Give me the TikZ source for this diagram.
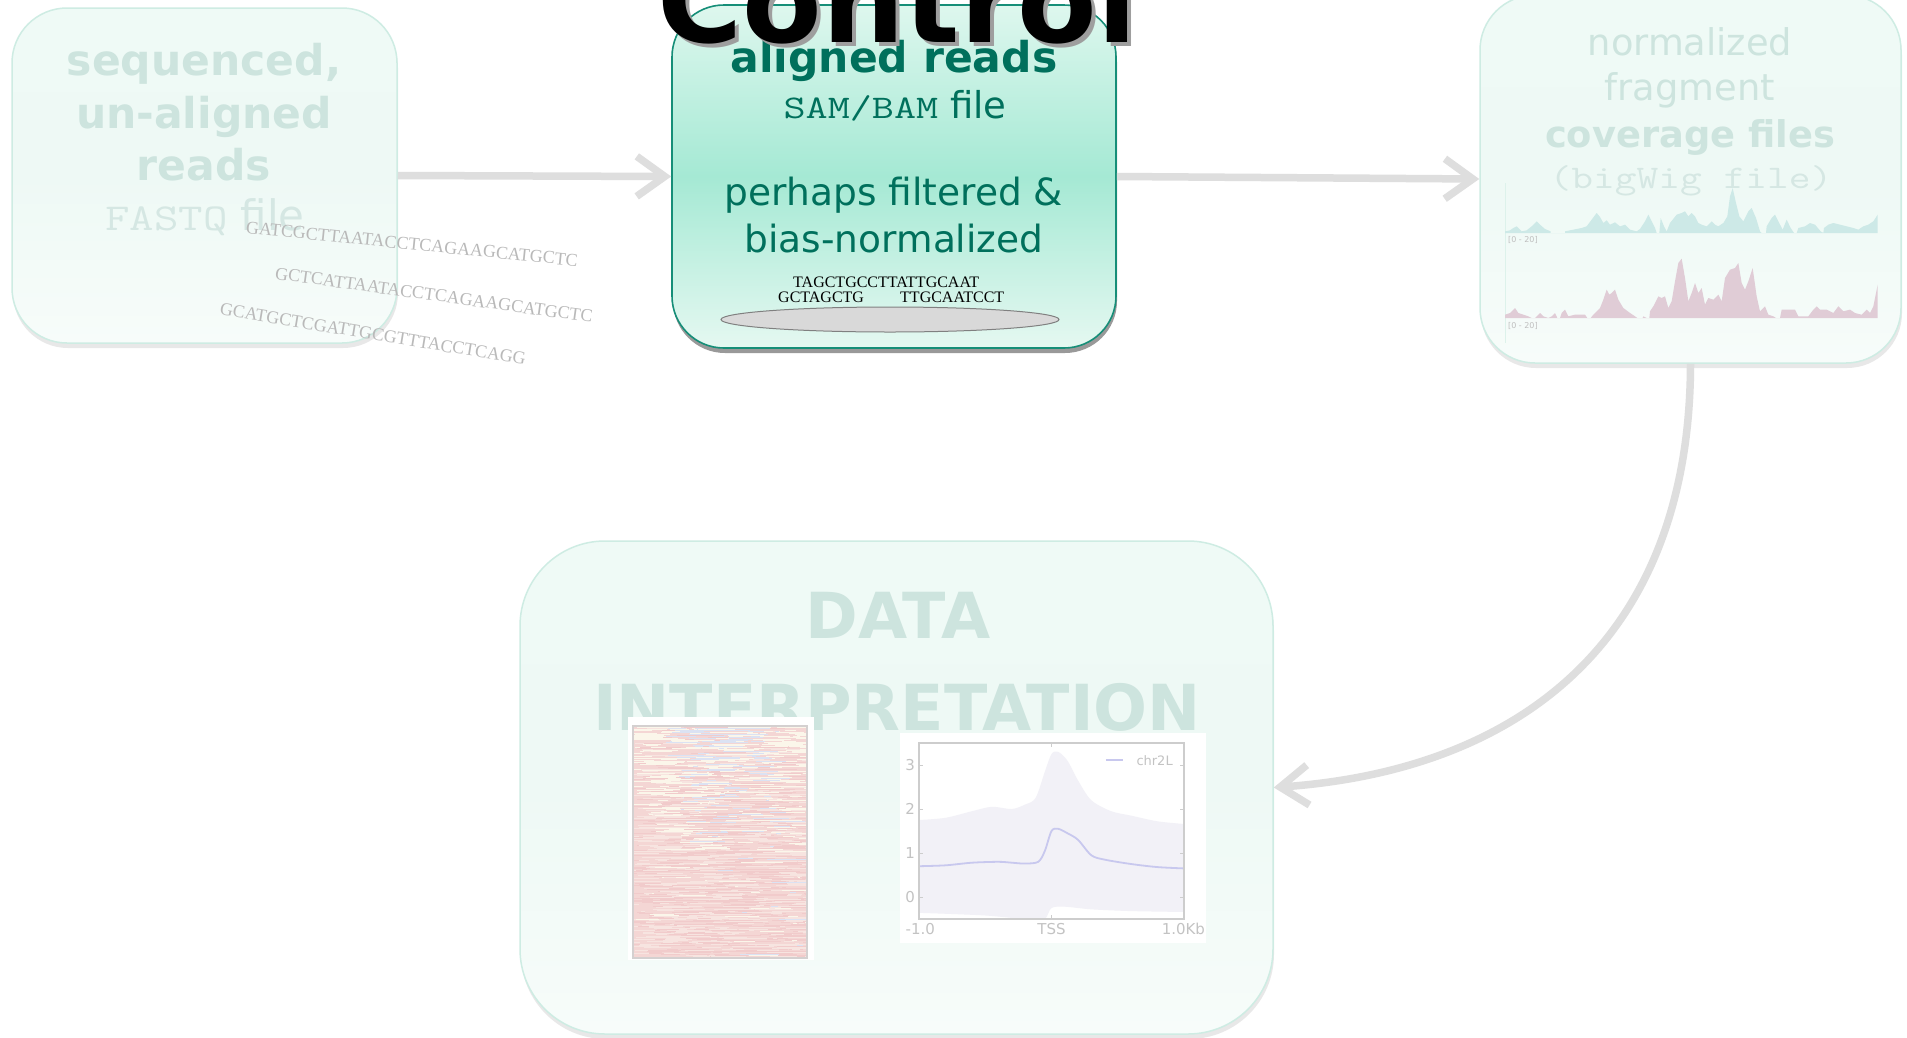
\documentclass[tikz,border=0pt]{standalone}
\usepackage{fontspec}
\setmainfont{DejaVu Sans}
\newfontfamily\seqfont{Liberation Serif}
\usetikzlibrary{shapes.geometric,arrows.meta,shadows}
\newcommand{\setfs}[1]{\fontsize{#1}{#1}\selectfont}
\definecolor{fA}{RGB}{239,250,246}
\definecolor{fM}{RGB}{238,249,245}
\definecolor{fB}{RGB}{247,252,250}
\definecolor{fline}{RGB}{206,236,227}
\definecolor{ftext}{RGB}{205,228,222}
\definecolor{ftext2}{RGB}{213,231,227}
\definecolor{gA}{RGB}{222,247,238}
\definecolor{gM}{RGB}{165,233,212}
\definecolor{gB}{RGB}{229,248,241}
\definecolor{gline}{RGB}{22,142,120}
\definecolor{gtext}{RGB}{0,112,92}
\definecolor{arrowgray}{RGB}{222,222,222}
\definecolor{seqgray}{RGB}{185,185,185}
\definecolor{tealtrack}{RGB}{205,233,231}
\definecolor{pinktrack}{RGB}{224,204,214}
\definecolor{hmbase}{RGB}{244,214,212}
\definecolor{hm0}{RGB}{241,203,203}
\definecolor{hm1}{RGB}{219,226,243}
\definecolor{hm2}{RGB}{251,246,234}
\definecolor{hm3}{RGB}{247,228,224}
\definecolor{hmframe}{RGB}{212,208,208}
\definecolor{bandc}{RGB}{242,241,247}
\definecolor{meanc}{RGB}{200,200,238}
\definecolor{framec}{RGB}{205,205,205}
\definecolor{tickc}{RGB}{195,195,195}
\begin{document}
\begin{tikzpicture}[x=1pt,y=-1pt,
  faintbox/.style={rounded corners=55pt, draw=fline, line width=1.5pt,
    top color=fA, bottom color=fB, middle color=fM, inner sep=0pt,
    drop shadow={shadow xshift=1pt, shadow yshift=-5pt, fill=black!9, opacity=1}},
  greenbox/.style={rounded corners=52pt, draw=gline, line width=1.6pt,
    top color=gA, bottom color=gB, middle color=gM, inner sep=0pt,
    drop shadow={shadow xshift=1pt, shadow yshift=-5pt, fill=black!40, opacity=1}},
  flow/.style={draw=arrowgray, line width=7.5pt, -{Straight Barb[length=28pt,width=40pt,sharp]}},
  ftxt/.style={anchor=base, text=ftext, inner sep=0pt},
  gtxt/.style={anchor=base, text=gtext, inner sep=0pt},
  seq/.style={text=seqgray, inner sep=0pt, font=\seqfont\setfs{18}},
  blackseq/.style={anchor=base west, text=black, inner sep=0pt, font=\seqfont\setfs{16}},
  ticklab/.style={text=tickc, inner sep=0pt, font=\setfs{15}},
  tracklab/.style={anchor=west, text=black!25, inner sep=0pt, font=\setfs{8}}
]
\fill[white] (0,0) rectangle (1907,1037);
\useasboundingbox (0,0) rectangle (1907,1037);

% ---------- boxes ----------
\node[faintbox, minimum width=385pt, minimum height=335pt] (b1) at (204.5,175.5) {};
\node[greenbox, minimum width=444pt, minimum height=343pt] (b2) at (894,176.5) {};
\node[faintbox, minimum width=421pt, minimum height=368pt] (b3) at (1690.5,179) {};
\node[faintbox, rounded corners=85pt, minimum width=753pt, minimum height=493pt] (b4) at (896.5,787.5) {};

% ---------- arrows ----------
\draw[flow] (b1.east) -- (b2.west);
\draw[flow] (b2.east) -- (b3.west);
\draw[flow] (b3.south) .. controls (1690,640) and (1520,770) .. (b4.east);

% ---------- box 1 ----------
\node[ftxt, font=\setfs{42.5}\bfseries] (t1a) at (204,75) {sequenced,};
\node[ftxt, font=\setfs{42.5}\bfseries] (t1b) at (204,128) {un-aligned};
\node[ftxt, font=\setfs{42.5}\bfseries] (t1c) at (204,180) {reads};
\node[ftxt, text=ftext2, font=\setfs{42}] (t1d) at (205,230) {\scalebox{1.25}[1]{\ttfamily\setfs{38}FASTQ} file};
\node[seq, rotate=-5.7] (s1) at (412,244) {GATCGCTTAATACCTCAGAAGCATGCTC};
\node[seq, rotate=-7.8] (s2) at (434,295) {GCTCATTAATACCTCAGAAGCATGCTC};
\node[seq, rotate=-9.4] (s3) at (373,334) {GCATGCTCGATTGCGTTTACCTCAGG};

% ---------- box 2 ----------
\node[gtxt, font=\setfs{42.5}\bfseries] (t2a) at (894,72) {aligned reads};
\node[gtxt, font=\setfs{37}] (t2b) at (895,118) {\scalebox{1.3}[1]{\ttfamily\setfs{33}SAM/BAM} file};
\node[gtxt, font=\setfs{37.5}] (t2c) at (894,205) {perhaps filtered \&};
\node[gtxt, font=\setfs{37.5}] (t2d) at (894,252) {bias-normalized};
\node[blackseq] (r1) at (793,287) {TAGCTGCCTTATTGCAAT};
\node[blackseq] (r2) at (778,302) {GCTAGCTG};
\node[blackseq] (r3) at (900,302) {TTGCAATCCT};
\node[ellipse, draw=black!50, line width=1pt, fill=black!15, minimum width=338pt, minimum height=25pt, inner sep=0pt] (chrom) at (890,319.5) {};

% ---------- Control title ----------
\node[anchor=base, inner sep=0pt, text=black!38, font=\setfs{116}\bfseries] (ctlsh) at (901,46) {Control};
\node[anchor=base, inner sep=0pt, text=black, font=\setfs{116}\bfseries] (ctl) at (897,42) {Control};

% ---------- box 3 ----------
\node[ftxt, font=\setfs{36.8}] (t3a) at (1690,55) {normalized};
\node[ftxt, font=\setfs{36.8}] (t3b) at (1690,100) {fragment};
\node[ftxt, font=\setfs{36.8}\bfseries] (t3c) at (1690,147) {coverage files};
\node[ftxt, text=ftext2, font=\setfs{33}] (t3d) at (1691,188) {\scalebox{1.28}[1]{\ttfamily\setfs{33}(bigWig file)}};
\draw[fline!70, line width=1pt] (1505,183) -- (1505,343);
\begin{scope}[shift={(1400,233)}, xscale=1/3, yscale=1/3]
\fill[tealtrack] (315,0)--(315,-5)--(330,-8)--(340,-15)--(350,-20)--(358,-12)--(365,-5)--(380,-8)--(395,-20)--(410,-35)--(420,-25)--(435,-12)--(452,-5)--(452,0)--(495,0)--(495,-5)--(520,-10)--(545,-15)--(560,-20)--(575,-40)--(590,-60)--(600,-48)--(610,-30)--(620,-38)--(630,-25)--(645,-32)--(660,-20)--(675,-25)--(690,-10)--(710,-5)--(720,-12)--(735,-35)--(745,-55)--(755,-35)--(765,-15)--(770,0)--(778,0)--(782,-45)--(792,-20)--(800,-5)--(810,-30)--(830,-55)--(845,-60)--(855,-65)--(865,-50)--(875,-60)--(885,-50)--(895,-30)--(905,-25)--(920,-20)--(935,-35)--(945,-25)--(955,-20)--(970,-30)--(982,-50)--(990,-110)--(998,-135)--(1008,-90)--(1018,-50)--(1030,-35)--(1045,-65)--(1055,-75)--(1068,-45)--(1080,-5)--(1085,0)--(1098,0)--(1100,-20)--(1115,-45)--(1125,-55)--(1135,-35)--(1148,-10)--(1160,-40)--(1172,-15)--(1182,0)--(1190,0)--(1195,-15)--(1215,-20)--(1230,-30)--(1245,-25)--(1262,-5)--(1270,0)--(1272,-15)--(1285,-25)--(1300,-30)--(1320,-25)--(1340,-20)--(1360,-15)--(1375,-10)--(1390,-20)--(1405,-25)--(1420,-35)--(1433,-55)--(1433,0)--cycle;
\end{scope}
\begin{scope}[shift={(1400,318)}, xscale=1/3, yscale=1/3]
\fill[pinktrack] (315,0)--(315,-10)--(330,-15)--(345,-30)--(355,-15)--(370,-10)--(385,-5)--(395,0)--(405,0)--(410,-5)--(420,-15)--(430,-5)--(445,0)--(455,-5)--(465,-15)--(472,0)--(480,0)--(485,-15)--(495,-25)--(505,-5)--(525,-10)--(555,-10)--(562,0)--(572,0)--(580,-10)--(600,-30)--(610,-55)--(620,-85)--(628,-70)--(635,-75)--(645,-85)--(655,-55)--(670,-30)--(690,-15)--(705,-5)--(712,0)--(728,0)--(730,-5)--(740,0)--(748,0)--(750,-20)--(760,-35)--(775,-65)--(785,-60)--(795,-65)--(805,-30)--(815,-50)--(825,-110)--(835,-165)--(845,-178)--(855,-120)--(865,-50)--(875,-75)--(885,-105)--(895,-75)--(905,-90)--(915,-40)--(925,-60)--(940,-55)--(955,-70)--(965,-50)--(975,-120)--(990,-145)--(1005,-150)--(1015,-165)--(1025,-105)--(1035,-85)--(1045,-110)--(1058,-150)--(1070,-65)--(1080,-20)--(1095,-35)--(1105,-10)--(1120,-5)--(1128,0)--(1140,0)--(1145,-25)--(1160,-25)--(1185,-25)--(1195,-5)--(1225,-5)--(1240,-25)--(1250,-35)--(1260,-25)--(1280,-25)--(1300,-15)--(1315,-35)--(1330,-20)--(1350,-25)--(1365,-15)--(1385,-10)--(1400,-25)--(1410,-15)--(1420,-35)--(1433,-100)--(1433,0)--cycle;
\end{scope}
\node[tracklab] (tl1) at (1508,240) {[0 - 20]};
\node[tracklab] (tl2) at (1508,326) {[0 - 20]};

% ---------- box 4 ----------
\node[ftxt, font=\setfs{63.5}\bfseries] (t4a) at (898,638) {DATA};
\node[ftxt, font=\setfs{63.5}\bfseries] (t4b) at (897,730) {INTERPRETATION};

% heatmap
\node[fill=white, minimum width=186pt, minimum height=243pt, inner sep=0pt] (hmbg) at (721,838.5) {};
\begin{scope}
\clip (633,726) rectangle (807,958);
\fill[hmbase] (633,726) rectangle (807,958);
\pgfmathsetseed{42}
\foreach \i in {0,...,231}{
  \pgfmathsetmacro{\yy}{726+\i}
  \pgfmathsetmacro{\pp}{max(0.05,0.95-\i/150)}
  \foreach \j in {1,...,7}{
    \pgfmathtruncatemacro{\kk}{ifthenelse(rnd<\pp, ifthenelse(rnd<0.3,1,2), ifthenelse(rnd<0.5,0,3))}
    \pgfmathsetmacro{\xa}{ifthenelse(\kk==1, 660+\i*0.25+rnd*90, 625+rnd*180)}
    \pgfmathsetmacro{\ln}{4+rnd*40}
    \fill[hm\kk] (\xa,\yy) rectangle ++(\ln,1);
  }
}
\end{scope}
\draw[hmframe, line width=1.5pt] (633,726) rectangle (807,958);

% profile plot
\node[fill=white, minimum width=306pt, minimum height=210pt, inner sep=0pt] (plbg) at (1053,838) {};
\begin{scope}[shift={(1051.5,897)}, x=132.5pt, y=44pt]
  \begin{scope}
    \clip (-1,-0.5) rectangle (1,3.5);
    \fill[bandc] plot[smooth] coordinates {(-1,1.75) (-0.8,1.8) (-0.6,1.95) (-0.45,2.05) (-0.3,2.0) (-0.2,2.1) (-0.12,2.25) (-0.05,2.85) (0.0,3.25) (0.05,3.3) (0.12,3.1) (0.2,2.65) (0.3,2.2) (0.45,1.95) (0.6,1.85) (0.8,1.72) (1.0,1.66)}
      -- plot[smooth] coordinates {(1.0,-0.34) (0.6,-0.32) (0.3,-0.28) (0.1,-0.22) (0.0,-0.25) (-0.05,-0.5) (-0.15,-0.52) (-0.5,-0.42) (-1,-0.36)} -- cycle;
    \draw[meanc, line width=1.8pt] plot[smooth] coordinates {(-1,0.7) (-0.8,0.72) (-0.6,0.78) (-0.4,0.8) (-0.3,0.78) (-0.2,0.76) (-0.1,0.8) (-0.05,1.05) (0.0,1.5) (0.05,1.55) (0.12,1.45) (0.2,1.3) (0.3,0.95) (0.4,0.85) (0.6,0.75) (0.8,0.68) (1.0,0.65)};
  \end{scope}
  \draw[framec, line width=1.8pt] (-1,-0.5) rectangle (1,3.5);
  \foreach \v in {0,1,2,3}{
    \draw[framec, line width=1pt] (-1,\v) -- ++(0.03,0);
    \draw[framec, line width=1pt] (1,\v) -- ++(-0.03,0);
    \node[ticklab, anchor=east] (yl\v) at (-1.03,\v) {\v};
  }
  \draw[framec, line width=1pt] (0,3.5) -- ++(0,-0.1);
  \draw[framec, line width=1pt] (0,-0.5) -- ++(0,0.1);
  \node[ticklab, anchor=base] (xl1) at (-0.99,-0.86) {-1.0};
  \node[ticklab, anchor=base] (xl2) at (0,-0.86) {TSS};
  \node[ticklab, anchor=base east] (xl3) at (1.16,-0.86) {1.0Kb};
  \draw[meanc, line width=2pt] (0.41,3.11) -- (0.54,3.11);
  \node[ticklab, anchor=west, font=\setfs{13}] (leg) at (0.64,3.11) {chr2L};
\end{scope}
\end{tikzpicture}
\end{document}
